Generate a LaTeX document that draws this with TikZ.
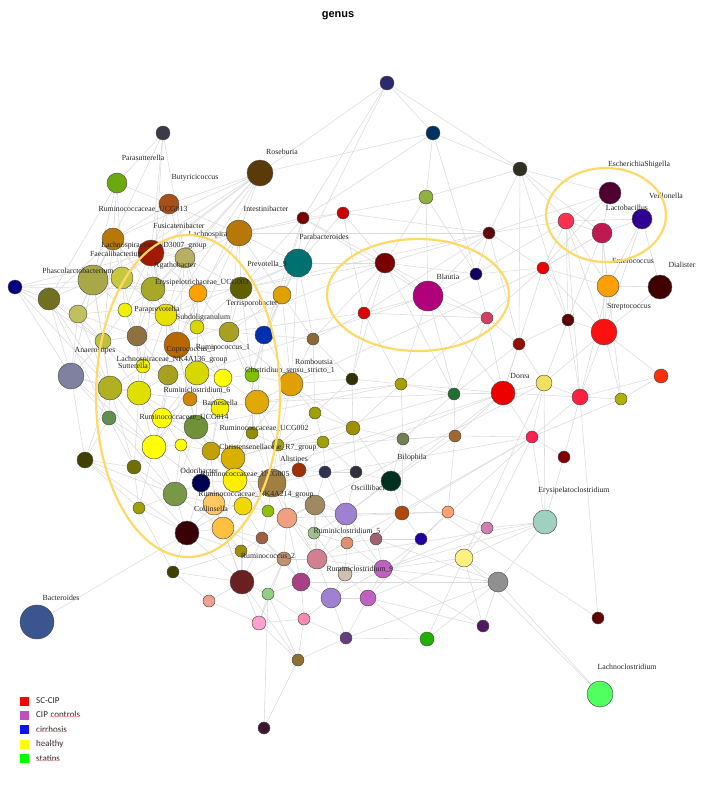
\documentclass[tikz,border=0pt]{standalone}
\usepackage{fontspec}
\setmainfont{Liberation Serif}
\newfontfamily\legfont{Carlito}
\newfontfamily\titfont{Liberation Sans}
\usetikzlibrary{decorations.pathmorphing}
\pgfdeclarelayer{edges}
\pgfsetlayers{edges,main}
\definecolor{ellcol}{HTML}{FFD966}
\definecolor{edgecol}{HTML}{DADADA}
\tikzset{
  gn/.style={circle, draw=black!70, line width=0.45pt, inner sep=0pt},
  lab/.style={font=\fontsize{7.8}{9}\selectfont, inner sep=0pt, text=black!85},
  edge/.style={draw=edgecol, line width=0.55pt},
  ell/.style={draw=ellcol, line width=2.2pt},
  legsq/.style={minimum size=9pt, inner sep=0pt, draw=none},
  legtx/.style={font=\legfont\fontsize{9}{10}\selectfont, inner sep=0pt, anchor=west, text=black!85},
  squig/.style={draw=red!35, line width=0.5pt, decorate, decoration={snake, amplitude=0.45pt, segment length=2pt}}
}
\newcommand\ND[5]{\definecolor{tmpc}{HTML}{#5}\node[gn, minimum size=2*#4pt, fill=tmpc] (n#1) at (#2,#3) {};}
\newcommand\LB[4]{\node[lab] (#1) at (#2,#3) {#4};}
\begin{document}
\begin{tikzpicture}[x=1pt,y=-1pt]
\useasboundingbox (0,0) rectangle (716,790);
\node[font=\titfont\bfseries\fontsize{11}{13}\selectfont, inner sep=0pt] (title) at (338,16) {genus};
% nodes
\ND{1}{387}{83}{7}{2A2A70}
\ND{2}{433}{133}{7}{003060}
\ND{3}{520}{169}{7}{303020}
\ND{4}{163}{133}{7}{3A3A4A}
\ND{5}{117}{183}{10}{6AAA10}
\ND{6}{169}{204}{10}{A8501A}
\ND{7}{260}{173}{13}{5A3A08}
\ND{8}{303}{218}{6}{7A0000}
\ND{9}{343}{213}{6}{CC0000}
\ND{10}{426}{197}{7}{90B040}
\ND{11}{113}{239}{11}{B87808}
\ND{12}{151}{253}{13}{A01A00}
\ND{13}{185}{258}{10}{B8B060}
\ND{14}{239}{233}{13}{B87808}
\ND{15}{298}{263}{14}{007070}
\ND{16}{385}{263}{10}{7A0000}
\ND{17}{93}{280}{15}{A8A848}
\ND{18}{122}{278}{11}{C8C840}
\ND{19}{153}{289}{12}{A8A828}
\ND{20}{198}{293}{9}{FFA000}
\ND{21}{241}{288}{11}{606000}
\ND{22}{282}{295}{9}{E0A000}
\ND{23}{15}{287}{7}{000080}
\ND{24}{49}{299}{11}{707020}
\ND{25}{78}{314}{9}{C0C060}
\ND{26}{125}{310}{7}{F0F000}
\ND{27}{166}{315}{11}{E8E000}
\ND{28}{197}{327}{7}{D8D800}
\ND{29}{229}{332}{10}{A8A020}
\ND{30}{264}{335}{9}{0030B0}
\ND{31}{313}{339}{6}{8A6A30}
\ND{32}{364}{313}{6}{DD0000}
\ND{33}{103}{341}{8}{C0C040}
\ND{34}{137}{336}{10}{907040}
\ND{35}{177}{345}{13}{B86800}
\ND{36}{71}{376}{13}{8080A0}
\ND{37}{143}{366}{7}{F0F000}
\ND{38}{168}{375}{10}{A8A020}
\ND{39}{197}{373}{12}{D8D800}
\ND{40}{223}{378}{9}{FFFF00}
\ND{41}{252}{375}{7}{80C000}
\ND{42}{291}{384}{12}{E0A000}
\ND{43}{352}{379}{6}{303000}
\ND{44}{401}{384}{6}{A8A000}
\ND{45}{110}{388}{12}{B0B020}
\ND{46}{139}{393}{12}{E0E000}
\ND{47}{190}{399}{7}{D08800}
\ND{48}{220}{408}{9}{F0F000}
\ND{49}{257}{402}{12}{E0A800}
\ND{50}{315}{413}{6}{A0A000}
\ND{51}{109}{418}{7}{609050}
\ND{52}{162}{418}{10}{FFFF00}
\ND{53}{196}{427}{12}{70903A}
\ND{54}{252}{433}{6}{909000}
\ND{55}{353}{428}{7}{A09000}
\ND{56}{323}{442}{6}{A0A000}
\ND{57}{278}{445}{6}{A0A020}
\ND{58}{154}{447}{12}{FFFF00}
\ND{59}{181}{445}{6}{FFFF00}
\ND{60}{211}{451}{9}{C0A000}
\ND{61}{233}{458}{12}{D8B000}
\ND{62}{85}{460}{8}{404000}
\ND{63}{134}{467}{7}{707000}
\ND{64}{201}{483}{9}{000050}
\ND{65}{235}{480}{12}{FFEE00}
\ND{66}{272}{483}{14}{A08040}
\ND{67}{299}{470}{7}{A03000}
\ND{68}{325}{472}{6}{303050}
\ND{69}{356}{472}{6}{303040}
\ND{70}{391}{481}{10}{003020}
\ND{71}{175}{494}{12}{789848}
\ND{72}{139}{508}{6}{A0A000}
\ND{73}{214}{504}{11}{FFC860}
\ND{74}{243}{506}{9}{F0D800}
\ND{75}{268}{511}{6}{90C000}
\ND{76}{287}{518}{10}{F0A080}
\ND{77}{315}{505}{10}{A08860}
\ND{78}{346}{514}{11}{A080D0}
\ND{79}{402}{513}{7}{B04810}
\ND{80}{223}{528}{11}{FFC040}
\ND{81}{187}{533}{12}{3A0008}
\ND{82}{262}{538}{6}{A06040}
\ND{83}{314}{533}{6}{A0C090}
\ND{84}{347}{543}{6}{E09070}
\ND{85}{376}{539}{6}{A06070}
\ND{86}{421}{539}{6}{2000A0}
\ND{87}{241}{551}{6}{A09000}
\ND{88}{284}{559}{7}{C09070}
\ND{89}{317}{559}{10}{D08090}
\ND{90}{345}{574}{7}{D0C0B0}
\ND{91}{383}{569}{9}{C060C0}
\ND{92}{173}{572}{6}{404000}
\ND{93}{242}{582}{12}{6A2020}
\ND{94}{301}{582}{9}{A84088}
\ND{95}{331}{598}{10}{A080D0}
\ND{96}{368}{598}{8}{C060C0}
\ND{97}{268}{594}{6}{90D080}
\ND{98}{209}{601}{6}{F0A090}
\ND{99}{37}{622}{17}{3A5590}
\ND{100}{259}{623}{7}{FFA0D0}
\ND{101}{304}{619}{6}{FF88B0}
\ND{102}{346}{638}{6}{604080}
\ND{103}{427}{639}{7}{20B000}
\ND{104}{298}{660}{6}{907030}
\ND{105}{264}{728}{6}{3A1830}
\ND{106}{610}{193}{11}{500030}
\ND{107}{642}{219}{10}{300090}
\ND{108}{566}{221}{8}{FF3050}
\ND{109}{602}{233}{10}{C01850}
\ND{110}{489}{233}{6}{600808}
\ND{111}{428}{296}{15}{B0007A}
\ND{112}{476}{274}{6}{100060}
\ND{113}{543}{268}{6}{EE0000}
\ND{114}{608}{286}{11}{FFA000}
\ND{115}{660}{287}{12}{400000}
\ND{116}{604}{332}{13}{FF1010}
\ND{117}{487}{318}{6}{D04060}
\ND{118}{568}{320}{6}{600000}
\ND{119}{519}{344}{6}{901000}
\ND{120}{454}{394}{6}{207030}
\ND{121}{503}{393}{12}{EE0000}
\ND{122}{544}{383}{8}{F0E060}
\ND{123}{580}{397}{8}{FF2040}
\ND{124}{621}{399}{6}{B0B000}
\ND{125}{661}{376}{7}{FF3000}
\ND{126}{403}{439}{6}{708050}
\ND{127}{455}{436}{6}{A06830}
\ND{128}{532}{437}{6}{FF2050}
\ND{129}{564}{457}{6}{800000}
\ND{130}{545}{522}{12}{A0D0C0}
\ND{131}{448}{512}{6}{FFA070}
\ND{132}{487}{528}{6}{D080B0}
\ND{134}{464}{558}{9}{FFF080}
\ND{136}{498}{582}{10}{909090}
\ND{137}{483}{626}{6}{501860}
\ND{138}{598}{618}{6}{600000}
\ND{139}{600}{694}{13}{50FF60}
% edges
\begin{pgfonlayer}{edges}
\foreach \a/\b in {1/2,1/3,1/8,1/15,1/7,2/3,2/8,2/112,2/10,2/7,3/10,3/110,3/108,3/109,3/106,3/119,3/118,10/16,10/111,10/9,10/112,
4/5,4/12,4/13,4/19,4/17,5/6,5/11,5/17,5/18,5/24,6/7,6/12,6/11,6/13,6/19,6/14,
7/12,7/13,7/17,7/18,7/11,7/14,7/19,7/27,7/35,8/14,8/15,8/9,8/21,8/22,8/16,8/30,8/111,
9/15,9/16,9/32,9/110,9/14,11/12,11/17,11/18,11/24,11/13,11/25,12/13,12/17,12/18,12/19,12/20,12/26,12/34,
13/19,13/20,13/21,13/27,13/14,14/20,14/21,14/22,14/15,14/29,14/12,15/22,15/30,15/31,15/16,15/42,15/21,
16/111,16/32,16/110,16/31,16/112,16/43,17/18,17/24,17/25,17/19,17/33,17/36,18/19,18/26,18/25,18/27,
19/20,19/26,19/27,19/34,19/28,20/21,20/27,20/28,20/29,21/22,21/29,21/28,21/30,21/110,22/29,22/30,22/31,22/42,
23/17,23/24,23/19,23/33,23/36,23/45,23/12,24/25,24/33,24/36,24/45,25/33,25/26,25/36,25/34,
26/27,26/34,26/33,26/37,27/28,27/34,27/35,27/39,28/29,28/35,28/39,28/40,29/30,29/40,29/41,29/42,
30/42,30/41,30/31,30/49,31/32,31/43,31/42,31/50,32/111,32/43,32/117,32/110,33/34,33/36,33/37,33/45,
34/35,34/37,34/38,34/46,35/38,35/39,35/40,35/47,36/45,36/51,36/62,37/38,37/46,37/45,
38/39,38/46,38/47,38/52,39/40,39/47,39/48,39/53,40/41,40/48,40/49,41/42,41/49,41/54,
42/49,42/50,42/43,42/55,42/113,43/44,43/50,43/55,44/120,44/55,44/126,44/121,44/111,44/117,44/49,
45/46,45/51,45/58,45/62,46/47,46/52,46/58,47/48,47/52,47/53,48/49,48/53,48/60,49/54,49/57,49/61,
50/55,50/56,50/57,51/58,51/62,51/63,52/53,52/58,52/59,53/59,53/60,53/61,54/57,54/61,54/66,
55/56,55/69,55/126,55/70,56/57,56/68,56/67,56/69,57/61,57/66,57/67,58/59,58/63,58/71,59/60,59/64,
60/61,60/64,60/65,61/65,61/66,62/63,62/71,62/72,63/71,63/72,64/65,64/71,64/73,65/66,65/73,65/74,
66/67,66/74,66/75,66/76,66/77,66/128,67/68,67/77,68/69,68/77,68/78,69/70,69/78,70/79,70/126,70/78,
71/72,71/73,71/81,72/81,72/92,73/74,73/80,73/81,74/75,74/80,74/82,75/76,75/82,
76/77,76/82,76/83,76/88,76/122,77/78,77/83,78/83,78/84,78/79,79/86,79/85,79/131,
80/81,80/82,80/87,80/93,81/92,81/87,81/93,82/87,82/88,82/93,83/84,83/89,84/85,84/90,85/86,85/91,
86/91,86/96,87/93,87/92,88/89,88/94,88/97,89/90,89/94,89/95,89/130,90/91,90/95,91/96,91/134,
92/98,92/93,93/97,93/98,93/100,94/95,94/97,94/101,94/136,95/96,95/101,95/102,96/102,96/103,
97/100,97/101,98/100,99/66,100/104,101/104,102/104,102/103,104/105,105/97,104/93,
103/136,103/134,102/136,137/136,137/134,137/91,137/96,
110/111,110/112,110/108,110/119,110/113,111/112,111/117,111/120,111/121,112/117,112/113,112/108,
113/117,113/118,113/108,113/121,113/109,114/115,114/107,114/108,114/109,114/116,114/113,115/116,115/107,
106/107,106/108,106/109,107/108,107/109,107/116,108/109,108/116,108/118,108/123,109/116,109/118,109/124,
116/118,116/123,116/124,116/125,116/122,117/119,117/121,117/120,118/119,118/123,118/122,
119/121,119/122,119/120,120/121,120/127,120/126,121/122,121/123,121/128,121/127,
122/123,122/128,122/130,122/134,123/124,123/128,123/129,123/138,123/125,124/125,124/128,
127/128,127/131,127/70,127/126,128/129,128/130,128/132,128/79,128/86,129/130,130/134,130/132,130/136,
131/132,131/86,132/134,132/91,134/136,134/96,136/91,136/85,138/70,139/136,139/134,126/79,
17/45,17/26,19/35,19/37,27/38,27/46,35/52,35/53,39/52,39/58,46/53,46/63,45/63,38/58,40/53,40/60,
48/61,47/58,52/60,53/65,58/64,58/72,60/73,61/74,53/71,36/58,36/46,33/46,25/45,24/51,12/27,12/35,
13/35,13/28,20/35,18/34,11/19,11/33,14/28,21/41,22/41,29/49,42/54,42/57,49/66,54/65,57/76,61/75,
65/80,71/80,73/93,74/93,80/88,64/81,59/71,63/81,62/81,51/71,
77/89,78/89,77/84,76/89,88/93,89/91,78/91,84/91,83/90,94/89,95/91,90/96,66/89,66/78,76/94,82/94,
88/100,97/104,101/102,100/101,
27/15,35/16,39/111,53/44,61/120,65/121,66/121,76/131,78/121,89/128,91/130,14/110,21/16,29/32,
49/120,60/127,114/123,106/113,106/110,109/113,113/116,16/117,16/120,32/44}
  \draw[edge] (n\a) -- (n\b);
\end{pgfonlayer}
% labels
\LB{l1}{143}{158}{Parasutterella}
\LB{l2}{195}{178}{Butyricicoccus}
\LB{l3}{282}{152}{Roseburia}
\LB{l4}{143}{209}{Ruminococcaceae\_UCG013}
\LB{l5}{266}{209}{Intestinibacter}
\LB{l6}{179}{226}{Fusicatenibacter}
\LB{l7}{208}{235}{Lachnospira}
\LB{l8}{324}{237}{Parabacteroides}
\LB{l9}{154}{246}{Lachnospiraceae\_ND3007\_group}
\LB{l10}{117}{254}{Faecalibacterium}
\LB{l11}{175}{266}{Agathobacter}
\LB{l12}{267}{264}{Prevotella\_9}
\LB{l13}{78}{271}{Phascolarctobacterium}
\LB{l14}{202}{283}{Erysipelotrichaceae\_UCG003}
\LB{l15}{252}{304}{Terrisporobacter}
\LB{l16}{157}{310}{Paraprevotella}
\LB{l17}{203}{318}{Subdoligranulum}
\LB{l18}{223}{347}{Ruminococcus\_1}
\LB{l19}{191}{350}{Coprococcus\_3}
\LB{l20}{95}{351}{Anaerostipes}
\LB{l21}{172}{360}{Lachnospiraceae\_NK4A136\_group}
\LB{l22}{314}{362}{Romboutsia}
\LB{l23}{133}{366}{Sutterella}
\LB{l24}{290}{370}{Clostridium\_sensu\_stricto\_1}
\LB{l25}{197}{390}{Ruminiclostridium\_6}
\LB{l26}{220}{403}{Barnesiella}
\LB{l27}{184}{417}{Ruminococcaceae\_UCG014}
\LB{l28}{264}{428}{Ruminococcaceae\_UCG002}
\LB{l29}{268}{448}{Christensenellaceae\_R7\_group}
\LB{l30}{412}{458}{Bilophila}
\LB{l31}{294}{460}{Alistipes}
\LB{l32}{199}{471}{Odoribacter}
\LB{l33}{245}{474}{Ruminococcaceae\_UCG005}
\LB{l34}{371}{488}{Oscillibacter}
\LB{l35}{574}{491}{Erysipelatoclostridium}
\LB{l36}{256}{495}{Ruminococcaceae\_NK4A214\_group}
\LB{l37}{211}{509}{Collinsella}
\LB{l38}{347}{531}{Ruminiclostridium\_5}
\LB{l39}{268}{556}{Ruminococcus\_2}
\LB{l40}{360}{569}{Ruminiclostridium\_9}
\LB{l41}{61}{598}{Bacteroides}
\LB{l42}{627}{667}{Lachnoclostridium}
\LB{l43}{448}{277}{Blautia}
\LB{l44}{639}{165}{EscherichiaShigella}
\LB{l45}{666}{196}{Veillonella}
\LB{l46}{627}{208}{Lactobacillus}
\LB{l47}{633}{261}{Enterococcus}
\LB{l48}{682}{265}{Dialister}
\LB{l49}{629}{307}{Streptococcus}
\LB{l50}{520}{376}{Dorea}
% ellipses
\draw[ell] (188,396) ellipse [x radius=92pt, y radius=161pt];
\draw[ell] (418,295) ellipse [x radius=91pt, y radius=56pt];
\draw[ell] (606,215) ellipse [x radius=60pt, y radius=47pt];
% legend
\definecolor{lg1}{HTML}{FF0000}\definecolor{lg2}{HTML}{C050C0}\definecolor{lg3}{HTML}{1010FF}
\definecolor{lg4}{HTML}{FFFF00}\definecolor{lg5}{HTML}{00FF00}
\node[legsq, fill=lg1] (s1) at (24.5,701) {};
\node[legsq, fill=lg2] (s2) at (24.5,715) {};
\node[legsq, fill=lg3] (s3) at (24.5,729.5) {};
\node[legsq, fill=lg4] (s4) at (24.5,744) {};
\node[legsq, fill=lg5] (s5) at (24.5,758.5) {};
\node[legtx] (t1) at (36,701) {SC-CIP};
\node[legtx] (t2a) at (36,715) {CIP};
\node[legtx, anchor=base west] (t2b) at ([xshift=2.3pt]t2a.base east) {controls};
\node[legtx] (t3) at (36,729.5) {cirrhosis};
\node[legtx] (t4) at (36,744) {healthy};
\node[legtx] (t5) at (36,758.5) {statins};
\draw[squig] ([yshift=1.2pt]t2b.base west) -- ([yshift=1.2pt]t2b.base east);
\draw[squig] ([yshift=1.2pt]t3.base west) -- ([yshift=1.2pt]t3.base east);
\draw[squig] ([yshift=3.2pt]t4.base west) -- ([yshift=3.2pt]t4.base east);
\draw[squig] ([yshift=1.2pt]t5.base west) -- ([yshift=1.2pt]t5.base east);
\end{tikzpicture}
\end{document}
